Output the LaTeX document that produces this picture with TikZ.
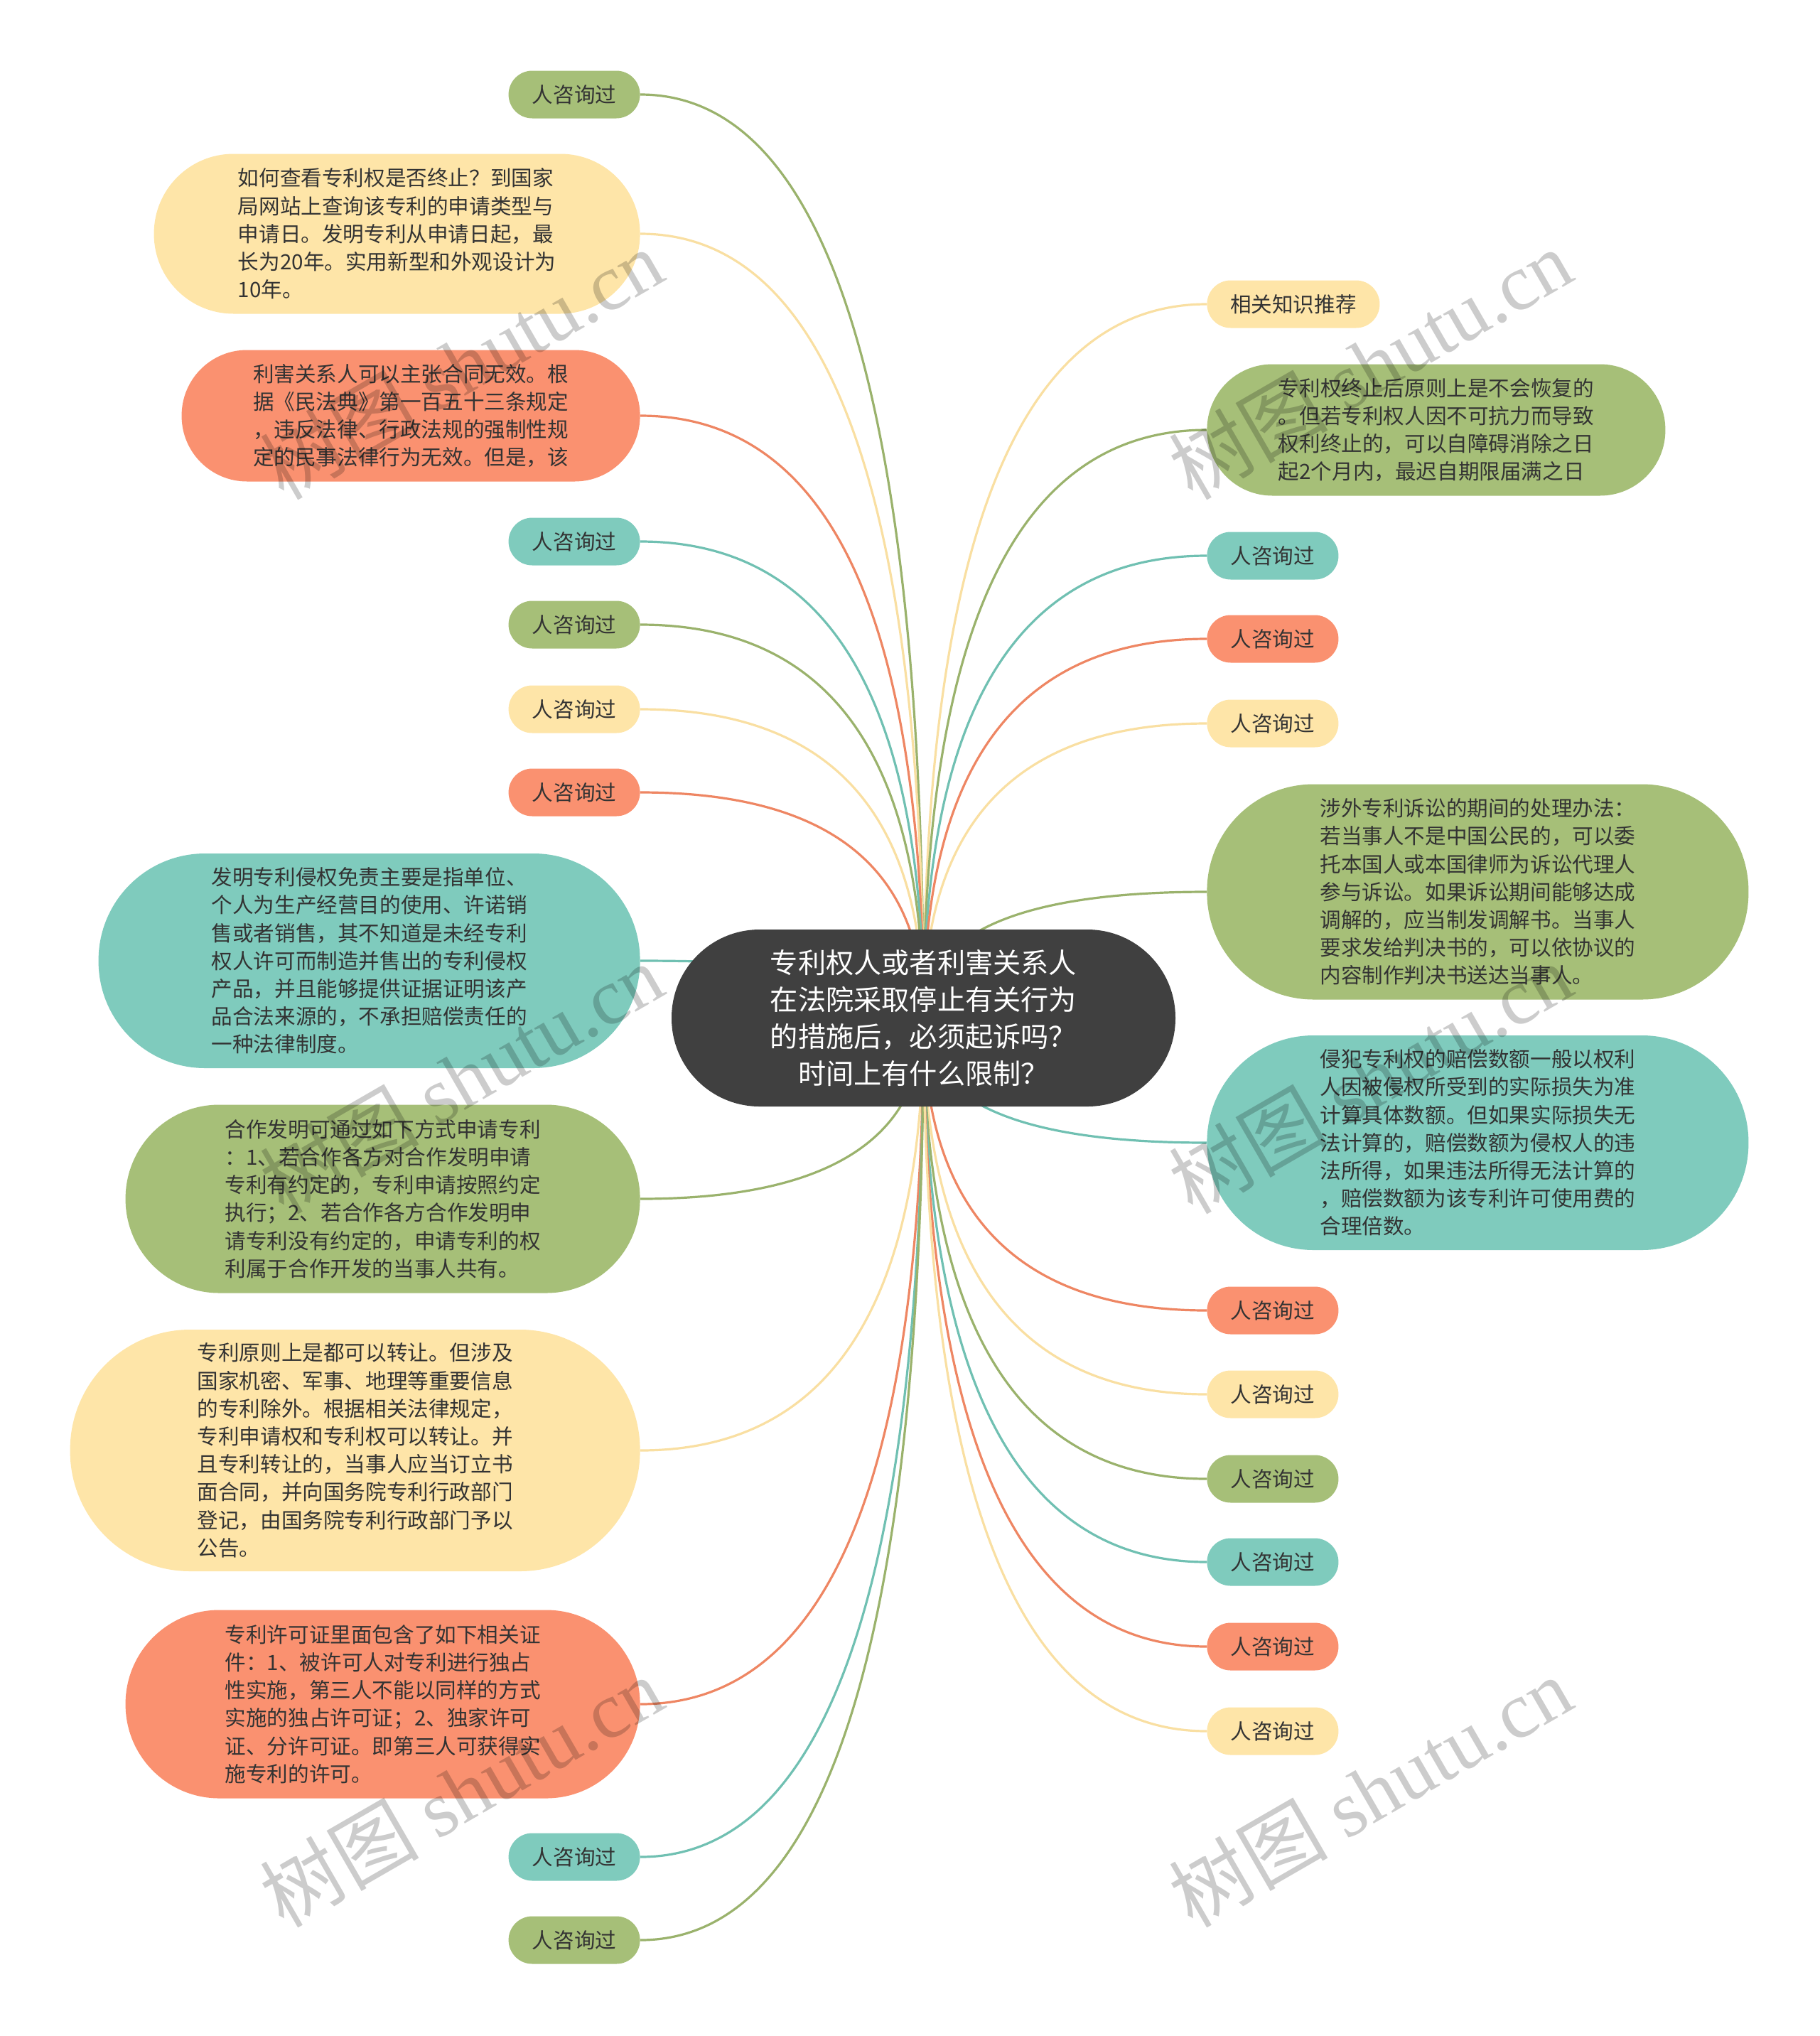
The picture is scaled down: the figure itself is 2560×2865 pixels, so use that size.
\documentclass[tikz,border=0pt]{standalone}
\usepackage{fontspec}
\setmainfont{Noto Sans CJK SC}
\newfontfamily\wmfont{Liberation Serif}
\usetikzlibrary{calc,backgrounds}

\definecolor{oliveFill}{HTML}{A6BF78}
\definecolor{oliveLine}{HTML}{9AB26C}
\definecolor{yellowFill}{HTML}{FEE5A8}
\definecolor{yellowLine}{HTML}{F9DFA2}
\definecolor{orangeFill}{HTML}{FA9170}
\definecolor{orangeLine}{HTML}{EE8663}
\definecolor{tealFill}{HTML}{7FCBBD}
\definecolor{tealLine}{HTML}{70C0B2}
\definecolor{topicFill}{HTML}{404040}
\definecolor{textGray}{HTML}{333333}

\tikzset{
  bubble/.style={text=textGray, font=\fontsize{14.8pt}{19.6pt}\selectfont, align=left, inner sep=0pt},
  ask/.style={bubble, minimum width=92.5pt, minimum height=33.5pt, rounded corners=16.7pt},
  topic/.style={fill=topicFill, text=white, font=\fontsize{19.6pt}{25.9pt}\selectfont, align=center,
    minimum width=354.5pt, minimum height=124.5pt, rounded corners=62pt, inner sep=0pt},
  link/.style={line width=1.6pt},
  branch/.style={to path={.. controls ($(\tikztostart)!0.667!(\tikztostart |- \tikztotarget)$)
    and ($(\tikztotarget)!0.667!(\tikztostart |- \tikztotarget)$) .. (\tikztotarget)}},
  watermark/.style={text=black, opacity=0.2, rotate=30, font=\fontsize{56pt}{60pt}\selectfont}
}

\begin{document}
\begin{tikzpicture}[x=0.5pt, y=-0.5pt]
\useasboundingbox (0,0) rectangle (2560,2865);

% centre topic
\node[topic] (c) at (1299.5,1432.5) {专利权人或者利害关系人\\在法院采取停止有关行为\\的措施后，必须起诉吗？\\时间上有什么限制？};

% left side
\node[ask, fill=oliveFill, anchor=east] (L1) at (901,133) {人咨询过};
\node[bubble, fill=yellowFill, anchor=east, minimum width=342pt, minimum height=112.5pt, rounded corners=56pt] (L2) at (901,329)
  {如何查看专利权是否终止？到国家\\局网站上查询该专利的申请类型与\\申请日。发明专利从申请日起，最\\长为20年。实用新型和外观设计为\\10年。};
\node[bubble, fill=orangeFill, anchor=east, minimum width=322.5pt, minimum height=92.5pt, rounded corners=46pt] (L3) at (901,585)
  {利害关系人可以主张合同无效。根\\据《民法典》第一百五十三条规定\\，违反法律、行政法规的强制性规\\定的民事法律行为无效。但是，该};
\node[ask, fill=tealFill, anchor=east] (L4) at (901,762) {人咨询过};
\node[ask, fill=oliveFill, anchor=east] (L5) at (901,879) {人咨询过};
\node[ask, fill=yellowFill, anchor=east] (L6) at (901,998) {人咨询过};
\node[ask, fill=orangeFill, anchor=east] (L7) at (901,1115) {人咨询过};
\node[bubble, fill=tealFill, anchor=east, minimum width=381pt, minimum height=151pt, rounded corners=75pt] (L8) at (901,1352)
  {发明专利侵权免责主要是指单位、\\个人为生产经营目的使用、许诺销\\售或者销售，其不知道是未经专利\\权人许可而制造并售出的专利侵权\\产品，并且能够提供证据证明该产\\品合法来源的，不承担赔偿责任的\\一种法律制度。};
\node[bubble, fill=oliveFill, anchor=east, minimum width=362pt, minimum height=132.5pt, rounded corners=66pt] (L9) at (901,1687)
  {合作发明可通过如下方式申请专利\\：1、若合作各方对合作发明申请\\专利有约定的，专利申请按照约定\\执行；2、若合作各方合作发明申\\请专利没有约定的，申请专利的权\\利属于合作开发的当事人共有。};
\node[bubble, fill=yellowFill, anchor=east, minimum width=401pt, minimum height=170pt, rounded corners=84.5pt] (L10) at (901,2041)
  {专利原则上是都可以转让。但涉及\\国家机密、军事、地理等重要信息\\的专利除外。根据相关法律规定，\\专利申请权和专利权可以转让。并\\且专利转让的，当事人应当订立书\\面合同，并向国务院专利行政部门\\登记，由国务院专利行政部门予以\\公告。};
\node[bubble, fill=orangeFill, anchor=east, minimum width=362pt, minimum height=132.5pt, rounded corners=66pt] (L11) at (901,2398)
  {专利许可证里面包含了如下相关证\\件：1、被许可人对专利进行独占\\性实施，第三人不能以同样的方式\\实施的独占许可证；2、独家许可\\证、分许可证。即第三人可获得实\\施专利的许可。};
\node[ask, fill=tealFill, anchor=east] (L12) at (901,2613) {人咨询过};
\node[ask, fill=oliveFill, anchor=east] (L13) at (901,2730) {人咨询过};

% right side
\node[ask, fill=yellowFill, anchor=west, minimum width=121.5pt] (R1) at (1698,428) {相关知识推荐};
\node[bubble, fill=oliveFill, anchor=west, minimum width=322.5pt, minimum height=92.5pt, rounded corners=46pt] (R2) at (1698,605)
  {专利权终止后原则上是不会恢复的\\。但若专利权人因不可抗力而导致\\权利终止的，可以自障碍消除之日\\起2个月内，最迟自期限届满之日};
\node[ask, fill=tealFill, anchor=west] (R3) at (1698,782) {人咨询过};
\node[ask, fill=orangeFill, anchor=west] (R4) at (1698,899) {人咨询过};
\node[ask, fill=yellowFill, anchor=west] (R5) at (1698,1018) {人咨询过};
\node[bubble, fill=oliveFill, anchor=west, minimum width=381pt, minimum height=151.5pt, rounded corners=75pt] (R6) at (1698,1255)
  {涉外专利诉讼的期间的处理办法：\\若当事人不是中国公民的，可以委\\托本国人或本国律师为诉讼代理人\\参与诉讼。如果诉讼期间能够达成\\调解的，应当制发调解书。当事人\\要求发给判决书的，可以依协议的\\内容制作判决书送达当事人。};
\node[bubble, fill=tealFill, anchor=west, minimum width=381pt, minimum height=151pt, rounded corners=75pt] (R7) at (1698,1608)
  {侵犯专利权的赔偿数额一般以权利\\人因被侵权所受到的实际损失为准\\计算具体数额。但如果实际损失无\\法计算的，赔偿数额为侵权人的违\\法所得，如果违法所得无法计算的\\，赔偿数额为该专利许可使用费的\\合理倍数。};
\node[ask, fill=orangeFill, anchor=west] (R8) at (1698,1844) {人咨询过};
\node[ask, fill=yellowFill, anchor=west] (R9) at (1698,1962) {人咨询过};
\node[ask, fill=oliveFill, anchor=west] (R10) at (1698,2081) {人咨询过};
\node[ask, fill=tealFill, anchor=west] (R11) at (1698,2198) {人咨询过};
\node[ask, fill=orangeFill, anchor=west] (R12) at (1698,2317) {人咨询过};
\node[ask, fill=yellowFill, anchor=west] (R13) at (1698,2436) {人咨询过};

% branches
\begin{scope}[on background layer]
\draw[link, oliveLine] (c.center) to[branch] (L1.east);
\draw[link, yellowLine] (c.center) to[branch] (L2.east);
\draw[link, orangeLine] (c.center) to[branch] (L3.east);
\draw[link, tealLine] (c.center) to[branch] (L4.east);
\draw[link, oliveLine] (c.center) to[branch] (L5.east);
\draw[link, yellowLine] (c.center) to[branch] (L6.east);
\draw[link, orangeLine] (c.center) to[branch] (L7.east);
\draw[link, tealLine] (c.center) to[branch] (L8.east);
\draw[link, oliveLine] (c.center) to[branch] (L9.east);
\draw[link, yellowLine] (c.center) to[branch] (L10.east);
\draw[link, orangeLine] (c.center) to[branch] (L11.east);
\draw[link, tealLine] (c.center) to[branch] (L12.east);
\draw[link, oliveLine] (c.center) to[branch] (L13.east);
\draw[link, yellowLine] (c.center) to[branch] (R1.west);
\draw[link, oliveLine] (c.center) to[branch] (R2.west);
\draw[link, tealLine] (c.center) to[branch] (R3.west);
\draw[link, orangeLine] (c.center) to[branch] (R4.west);
\draw[link, yellowLine] (c.center) to[branch] (R5.west);
\draw[link, oliveLine] (c.center) to[branch] (R6.west);
\draw[link, tealLine] (c.center) to[branch] (R7.west);
\draw[link, orangeLine] (c.center) to[branch] (R8.west);
\draw[link, yellowLine] (c.center) to[branch] (R9.west);
\draw[link, oliveLine] (c.center) to[branch] (R10.west);
\draw[link, tealLine] (c.center) to[branch] (R11.west);
\draw[link, orangeLine] (c.center) to[branch] (R12.west);
\draw[link, yellowLine] (c.center) to[branch] (R13.west);
\end{scope}

% watermarks
\node[watermark] (wm1) at (649,512) {树图 {\wmfont shutu.cn}};
\node[watermark] (wm2) at (1928,512) {树图 {\wmfont shutu.cn}};
\node[watermark] (wm3) at (649,1517) {树图 {\wmfont shutu.cn}};
\node[watermark] (wm4) at (1928,1517) {树图 {\wmfont shutu.cn}};
\node[watermark] (wm5) at (649,2521) {树图 {\wmfont shutu.cn}};
\node[watermark] (wm6) at (1928,2521) {树图 {\wmfont shutu.cn}};
\end{tikzpicture}
\end{document}
